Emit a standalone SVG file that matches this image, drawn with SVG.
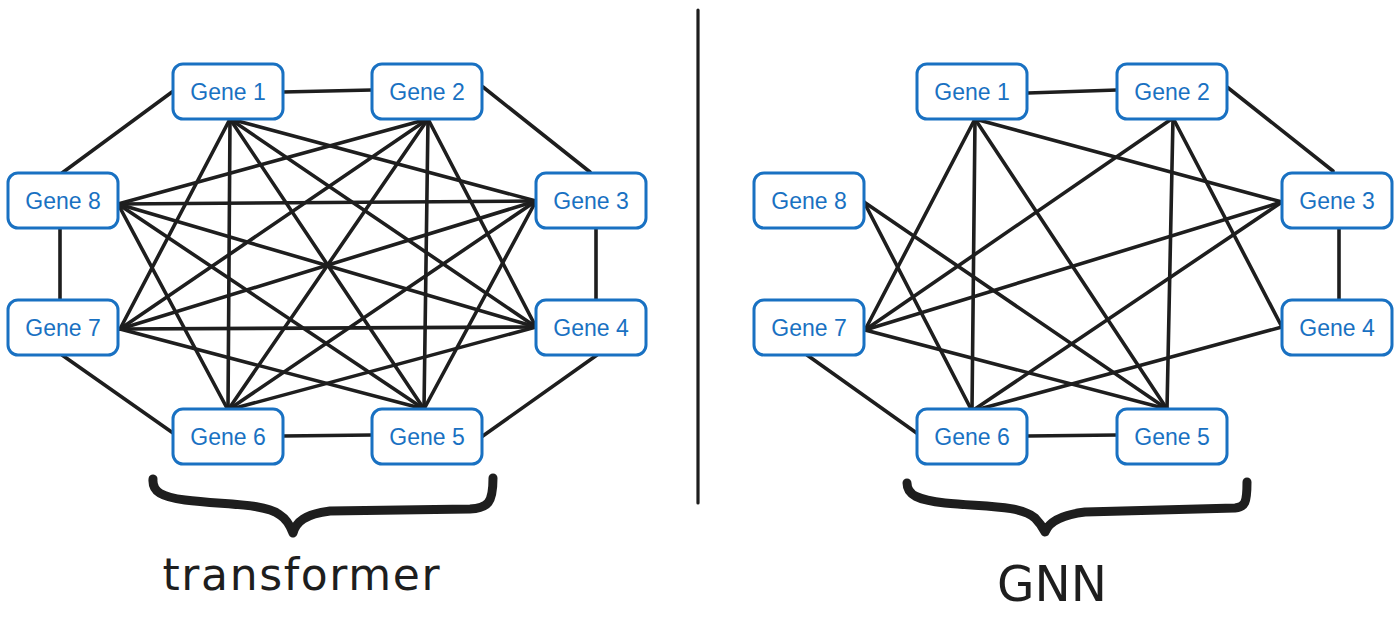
<svg xmlns="http://www.w3.org/2000/svg" width="1400" height="631" viewBox="0 0 1400 631">
<style>
.node rect{fill:#ffffff;stroke:#1971c2;stroke-width:3}
.node text{font-family:"Liberation Sans","Noto Sans",sans-serif;font-size:23px;fill:#1971c2;text-anchor:middle}
.edges line{stroke:#1e1e1e;stroke-width:3.6;stroke-linecap:round}
.brace{fill:none;stroke:#1e1e1e;stroke-width:9;stroke-linecap:round;stroke-linejoin:round}
.label{font-family:"DejaVu Sans","Liberation Sans",sans-serif;fill:#1e1e1e;text-anchor:middle}
</style>
<rect width="1400" height="631" fill="#ffffff"/>
<line x1="698" y1="10" x2="698" y2="503" stroke="#1e1e1e" stroke-width="3.2" stroke-linecap="round"/>
<g id="connectors-transformer" class="edges">
<line x1="283" y1="92" x2="372" y2="90"/>
<line x1="483" y1="87" x2="590" y2="172"/>
<line x1="596" y1="228" x2="596" y2="300"/>
<line x1="597" y1="355" x2="480" y2="438"/>
<line x1="283" y1="436" x2="372" y2="435"/>
<line x1="173" y1="433" x2="62" y2="355"/>
<line x1="60" y1="228" x2="60" y2="300"/>
<line x1="62" y1="173" x2="172" y2="92"/>
<line x1="230" y1="119" x2="536" y2="201"/>
<line x1="230" y1="119" x2="536" y2="327"/>
<line x1="230" y1="119" x2="424" y2="409"/>
<line x1="230" y1="119" x2="228" y2="410"/>
<line x1="230" y1="119" x2="120" y2="329"/>
<line x1="428" y1="119" x2="536" y2="327"/>
<line x1="428" y1="119" x2="424" y2="409"/>
<line x1="428" y1="119" x2="228" y2="410"/>
<line x1="428" y1="119" x2="120" y2="329"/>
<line x1="428" y1="119" x2="118" y2="204"/>
<line x1="536" y1="201" x2="424" y2="409"/>
<line x1="536" y1="201" x2="228" y2="410"/>
<line x1="536" y1="201" x2="120" y2="329"/>
<line x1="536" y1="201" x2="118" y2="204"/>
<line x1="536" y1="327" x2="228" y2="410"/>
<line x1="536" y1="327" x2="120" y2="329"/>
<line x1="536" y1="327" x2="118" y2="204"/>
<line x1="424" y1="409" x2="120" y2="329"/>
<line x1="424" y1="409" x2="118" y2="204"/>
<line x1="228" y1="410" x2="118" y2="204"/>
</g>
<g id="connectors-gnn" class="edges">
<line x1="1028" y1="93" x2="1117" y2="90"/>
<line x1="1227" y1="87" x2="1333" y2="171"/>
<line x1="1339" y1="228" x2="1339" y2="300"/>
<line x1="1028" y1="436" x2="1117" y2="435"/>
<line x1="918" y1="434" x2="807" y2="355"/>
<line x1="975" y1="119" x2="865" y2="330"/>
<line x1="975" y1="119" x2="972" y2="411"/>
<line x1="975" y1="119" x2="1167" y2="409"/>
<line x1="975" y1="119" x2="1282" y2="202"/>
<line x1="864" y1="202" x2="972" y2="411"/>
<line x1="864" y1="202" x2="1167" y2="409"/>
<line x1="865" y1="330" x2="1173" y2="118"/>
<line x1="865" y1="330" x2="1282" y2="202"/>
<line x1="865" y1="330" x2="1167" y2="409"/>
<line x1="972" y1="411" x2="1282" y2="202"/>
<line x1="972" y1="411" x2="1282" y2="327"/>
<line x1="1173" y1="118" x2="1167" y2="409"/>
<line x1="1173" y1="118" x2="1282" y2="327"/>
</g>
<g id="t-gene1" class="node"><rect x="173" y="64" width="110" height="55" rx="10"/><text x="228" y="100">Gene 1</text></g>
<g id="t-gene2" class="node"><rect x="372" y="64" width="110" height="55" rx="10"/><text x="427" y="100">Gene 2</text></g>
<g id="t-gene3" class="node"><rect x="536" y="173" width="110" height="55" rx="10"/><text x="591" y="209">Gene 3</text></g>
<g id="t-gene4" class="node"><rect x="536" y="300" width="110" height="55" rx="10"/><text x="591" y="336">Gene 4</text></g>
<g id="t-gene5" class="node"><rect x="372" y="409" width="110" height="55" rx="10"/><text x="427" y="445">Gene 5</text></g>
<g id="t-gene6" class="node"><rect x="173" y="409" width="110" height="55" rx="10"/><text x="228" y="445">Gene 6</text></g>
<g id="t-gene7" class="node"><rect x="8" y="300" width="110" height="55" rx="10"/><text x="63" y="336">Gene 7</text></g>
<g id="t-gene8" class="node"><rect x="8" y="173" width="110" height="55" rx="10"/><text x="63" y="209">Gene 8</text></g>
<g id="g-gene1" class="node"><rect x="917" y="64" width="110" height="55" rx="10"/><text x="972" y="100">Gene 1</text></g>
<g id="g-gene2" class="node"><rect x="1117" y="64" width="110" height="55" rx="10"/><text x="1172" y="100">Gene 2</text></g>
<g id="g-gene3" class="node"><rect x="1282" y="173" width="110" height="55" rx="10"/><text x="1337" y="209">Gene 3</text></g>
<g id="g-gene4" class="node"><rect x="1282" y="300" width="110" height="55" rx="10"/><text x="1337" y="336">Gene 4</text></g>
<g id="g-gene5" class="node"><rect x="1117" y="409" width="110" height="55" rx="10"/><text x="1172" y="445">Gene 5</text></g>
<g id="g-gene6" class="node"><rect x="917" y="409" width="110" height="55" rx="10"/><text x="972" y="445">Gene 6</text></g>
<g id="g-gene7" class="node"><rect x="754" y="300" width="110" height="55" rx="10"/><text x="809" y="336">Gene 7</text></g>
<g id="g-gene8" class="node"><rect x="754" y="173" width="110" height="55" rx="10"/><text x="809" y="209">Gene 8</text></g>
<g id="brace-transformer">
<path class="brace" d="M153,479 C152,492 162,497 185,500 C225,505 265,503 280,515 C288,520 291,528 293,533 C296,522 305,514 330,511 L470,509 C488,508 493,503 493,478"/>
<text class="label" x="301" y="590" font-size="44" textLength="277" lengthAdjust="spacing">transformer</text>
</g>
<g id="brace-gnn">
<path class="brace" d="M907,483 C907,495 918,500 945,503 C985,507 1020,505 1035,518 C1040,523 1043,528 1045,532 C1049,522 1060,515 1085,512 L1235,508 C1245,507 1247,503 1247,482"/>
<text class="label" x="1052" y="601" font-size="50" textLength="110" lengthAdjust="spacingAndGlyphs">GNN</text>
</g>
</svg>
